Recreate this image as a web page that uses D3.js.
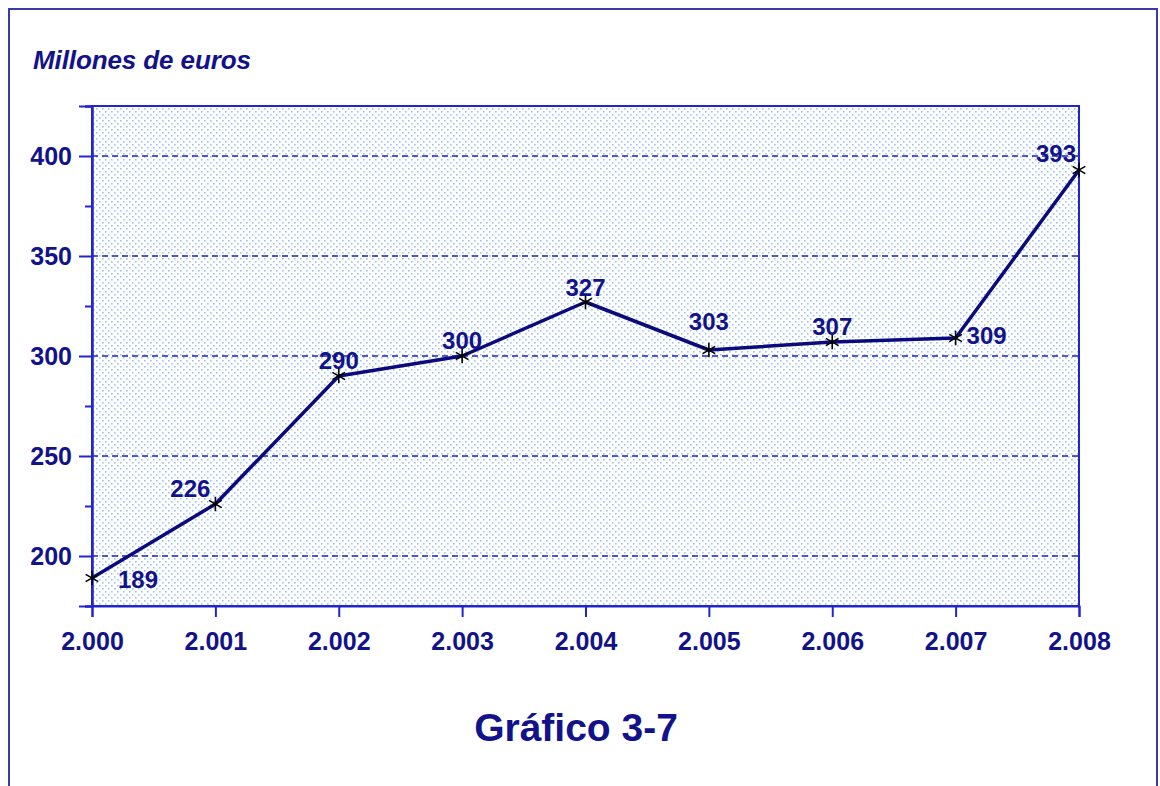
<!DOCTYPE html>
<html lang="es">
<head>
    <meta charset="UTF-8">
    <title>Gráfico 3-7</title>
    <script src="https://d3js.org/d3.v7.min.js"></script>
    <style type="text/css">
        body { margin: 0; background: white; }
        * { font-family: "Liberation Sans", Arial, sans-serif; }
    </style>
</head>
<body>
<div id="chart"></div>
<script>
// Data
var years = [2000, 2001, 2002, 2003, 2004, 2005, 2006, 2007, 2008];
var yearLabels = ["2.000", "2.001", "2.002", "2.003", "2.004", "2.005", "2.006", "2.007", "2.008"];
var values = [189, 226, 290, 300, 327, 303, 307, 309, 393];
var yTicks = [200, 250, 300, 350, 400];

// label offsets per point (dx, dy) - purely placement
var labelOffsets = [[46, 10], [-25, -7], [0, -7], [0, -7], [0, -6], [0, -20], [0, -7], [31, 6], [-23, -8]];

var width = 1160, height = 786;
var navy = "#12128a";
var axisBlue = "#2424cc";

var svg = d3.select("#chart").append("svg")
    .attr("width", width)
    .attr("height", height);

// outer frame
svg.append("rect")
    .attr("x", 9).attr("y", 9)
    .attr("width", 1148).attr("height", 800)
    .attr("fill", "none")
    .attr("stroke", "#3a3aa8")
    .attr("stroke-width", 2);

// dotted background pattern
var defs = svg.append("defs");
var pat = defs.append("pattern")
    .attr("id", "dots")
    .attr("patternUnits", "userSpaceOnUse")
    .attr("width", 6).attr("height", 6);
pat.append("rect").attr("width", 6).attr("height", 6).attr("fill", "#ffffff");
pat.append("rect").attr("x", 0).attr("y", 0).attr("width", 1.6).attr("height", 1.6).attr("fill", "#9ec4f2");
pat.append("rect").attr("x", 3).attr("y", 3).attr("width", 1.6).attr("height", 1.6).attr("fill", "#9ec4f2");

// scales
var x = d3.scaleLinear().domain([2000, 2008]).range([92, 1079]);
var y = d3.scaleLinear().domain([175, 425]).range([606, 106]);

// plot area
svg.append("rect")
    .attr("x", x(2000)).attr("y", y(425))
    .attr("width", x(2008) - x(2000))
    .attr("height", y(175) - y(425))
    .attr("fill", "url(#dots)")
    .attr("stroke", axisBlue)
    .attr("stroke-width", 2);

// grid lines
svg.append("g").selectAll("line")
    .data(yTicks)
    .join("line")
    .attr("x1", x(2000)).attr("x2", x(2008))
    .attr("y1", d => y(d)).attr("y2", d => y(d))
    .attr("stroke", "#2020c0")
    .attr("stroke-width", 1.6)
    .attr("stroke-dasharray", "6,4");

// y axis - major ticks
var yAxis = svg.append("g")
    .attr("transform", "translate(" + x(2000) + ",0)")
    .call(d3.axisLeft(y).tickValues(yTicks).tickSize(13).tickPadding(7));
// y axis - minor ticks
var yMinor = svg.append("g")
    .attr("transform", "translate(" + x(2000) + ",0)")
    .call(d3.axisLeft(y).tickValues([175, 225, 275, 325, 375, 425]).tickSize(7).tickFormat(""));

// x axis
var xAxis = svg.append("g")
    .attr("transform", "translate(0," + y(175) + ")")
    .call(d3.axisBottom(x).tickValues(years).tickSize(11).tickPadding(10)
        .tickFormat((d, i) => yearLabels[i]));

[yAxis, yMinor, xAxis].forEach(function(g) {
    g.select(".domain").attr("stroke", axisBlue).attr("stroke-width", 2);
    g.selectAll(".tick line").attr("stroke", axisBlue).attr("stroke-width", 2);
    g.selectAll(".tick text")
        .attr("fill", navy)
        .style("font-size", "25px")
        .style("font-weight", "bold");
});
xAxis.selectAll(".tick text").attr("dy", "0.9em");

// line
var line = d3.line()
    .x((d, i) => x(years[i]))
    .y(d => y(d));

svg.append("path")
    .datum(values)
    .attr("d", line)
    .attr("fill", "none")
    .attr("stroke", "#0a0a7c")
    .attr("stroke-width", 3.5)
    .attr("stroke-linejoin", "round");

// asterisk markers
var star = d3.symbol().type(d3.symbolAsterisk).size(150);
svg.append("g").selectAll("path")
    .data(values)
    .join("path")
    .attr("transform", (d, i) => "translate(" + x(years[i]) + "," + y(d) + ")")
    .attr("d", star)
    .attr("fill", "none")
    .attr("stroke", "#000000")
    .attr("stroke-width", 1.6);

// value labels
svg.append("g").selectAll("text")
    .data(values)
    .join("text")
    .attr("x", (d, i) => x(years[i]) + labelOffsets[i][0])
    .attr("y", (d, i) => y(d) + labelOffsets[i][1])
    .attr("text-anchor", "middle")
    .attr("fill", navy)
    .style("font-size", "24px")
    .style("font-weight", "bold")
    .text(d => d);

// units label
svg.append("text")
    .attr("x", 33).attr("y", 69)
    .attr("fill", navy)
    .style("font-size", "26px")
    .style("font-weight", "bold")
    .style("font-style", "italic")
    .attr("textLength", 218)
    .text("Millones de euros");

// chart caption
svg.append("text")
    .attr("x", 576).attr("y", 741)
    .attr("text-anchor", "middle")
    .attr("fill", navy)
    .style("font-size", "39px")
    .style("font-weight", "bold")
    .text("Gráfico 3-7");
</script>
</body>
</html>
